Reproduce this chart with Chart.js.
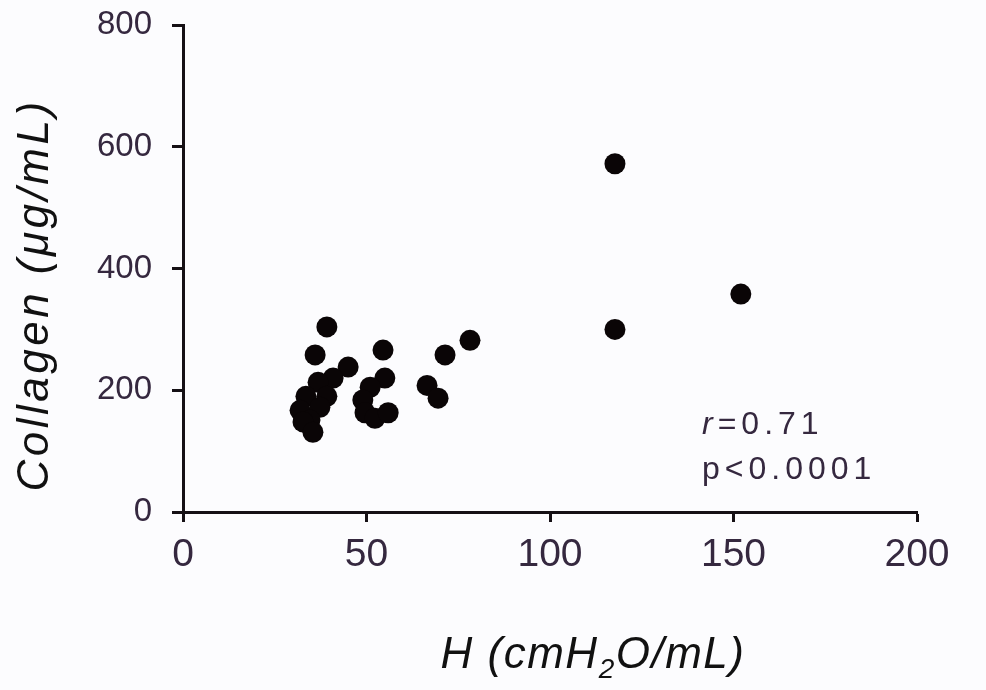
<!DOCTYPE html>
<html>
<head>
<meta charset="utf-8">
<script src="https://cdn.jsdelivr.net/npm/chart.js@4"></script>
<style>
html,body{margin:0;padding:0;background:#fcfcfe;}
#wrap{width:986px;height:690px;position:relative;}
</style>
</head>
<body>
<div id="wrap"><canvas id="c" width="986" height="690"></canvas></div>
<script>
// H (cmH2O/mL)
const hValues = [39.2, 36.0, 45.0, 40.9, 36.8, 33.5, 39.2, 31.9, 37.3, 34.6, 32.7, 35.4,
                 54.5, 55.0, 51.0, 49.0, 49.6, 52.3, 55.9,
                 66.5, 69.5, 71.4, 78.2, 117.7, 117.7, 152.0];
// Collagen (µg/mL)
const collagenValues = [304, 258, 238, 220, 213, 190, 190, 167, 172, 151, 148, 131,
                        266, 220, 205, 184, 163, 154, 163,
                        208, 187, 258, 282, 572, 300, 358];
const xTicks = [0, 50, 100, 150, 200];
const yTicks = [0, 200, 400, 600, 800];
const statR = "0.71";
const statP = "p<0.0001";

const points = hValues.map((h, i) => ({x: h, y: collagenValues[i]}));
const FONT = "'Liberation Sans', Arial, sans-serif";
const NARROW = "'Liberation Sans Narrow', 'Arial Narrow', 'Liberation Sans', sans-serif";
const TXT = '#35283f';

const textPlugin = {
  id: 'texts',
  afterDraw(chart) {
    const ctx = chart.ctx;
    ctx.save();
    ctx.fillStyle = '#111';
    // Y title
    ctx.save();
    ctx.translate(36, 295);
    ctx.rotate(-Math.PI / 2);
    ctx.font = "italic 44px " + FONT;
    ctx.letterSpacing = '3.5px';
    ctx.textAlign = 'center';
    ctx.textBaseline = 'middle';
    ctx.fillText('Collagen (\u03BCg/mL)', 0, 0);
    ctx.restore();
    // X title with subscript
    ctx.save();
    ctx.letterSpacing = '1.5px';
    ctx.textBaseline = 'alphabetic';
    ctx.textAlign = 'left';
    const a = 'H (cmH', b = '2', c = 'O/mL)';
    const big = "italic 44px " + FONT;
    const small = "italic 28px " + FONT;
    ctx.font = big;
    const wa = ctx.measureText(a).width, wc = ctx.measureText(c).width;
    ctx.font = small;
    const wb = ctx.measureText(b).width;
    let x0 = 593 - (wa + wb + wc) / 2;
    const base = 668;
    ctx.font = big;
    ctx.fillText(a, x0, base);
    ctx.font = small;
    ctx.fillText(b, x0 + wa, base + 10);
    ctx.font = big;
    ctx.fillText(c, x0 + wa + wb, base);
    ctx.restore();
    // stats
    ctx.save();
    ctx.fillStyle = TXT;
    ctx.letterSpacing = '5px';
    ctx.textBaseline = 'alphabetic';
    ctx.textAlign = 'left';
    ctx.font = "italic 32px " + FONT;
    ctx.fillText('r', 702, 434);
    const wr = ctx.measureText('r').width;
    ctx.font = "32px " + FONT;
    ctx.fillText('=' + statR, 702 + wr, 434);
    ctx.fillText(statP, 702, 479);
    ctx.restore();
    ctx.restore();
  }
};

new Chart(document.getElementById('c'), {
  type: 'scatter',
  data: {
    datasets: [{
      data: points,
      backgroundColor: '#0a0506',
      borderWidth: 0,
      pointRadius: 10.5,
      pointHoverRadius: 10.5
    }]
  },
  options: {
    responsive: false,
    animation: false,
    events: [],
    layout: {padding: {left: 0, right: 69, top: 25, bottom: 0}},
    plugins: {legend: {display: false}, tooltip: {enabled: false}},
    scales: {
      x: {
        type: 'linear', min: 0, max: 200,
        afterBuildTicks(s) { s.ticks = xTicks.map(v => ({value: v})); },
        afterFit(s) { s.height = 178; s.paddingLeft = 0; s.paddingRight = 0; },
        border: {display: true, color: '#151015', width: 3},
        grid: {display: true, drawOnChartArea: false, drawTicks: true, tickLength: 10, tickWidth: 3, tickColor: '#151015'},
        ticks: {color: TXT, font: {family: NARROW, size: 39}, padding: 10, maxRotation: 0}
      },
      y: {
        type: 'linear', min: 0, max: 800,
        afterBuildTicks(s) { s.ticks = yTicks.map(v => ({value: v})); },
        afterFit(s) { s.width = 183; s.paddingTop = 0; s.paddingBottom = 0; },
        border: {display: true, color: '#151015', width: 3},
        grid: {display: true, drawOnChartArea: false, drawTicks: true, tickLength: 11, tickWidth: 3, tickColor: '#151015'},
        ticks: {color: TXT, font: {family: FONT, size: 33}, padding: 20}
      }
    }
  },
  plugins: [textPlugin]
});
</script>
</body>
</html>
